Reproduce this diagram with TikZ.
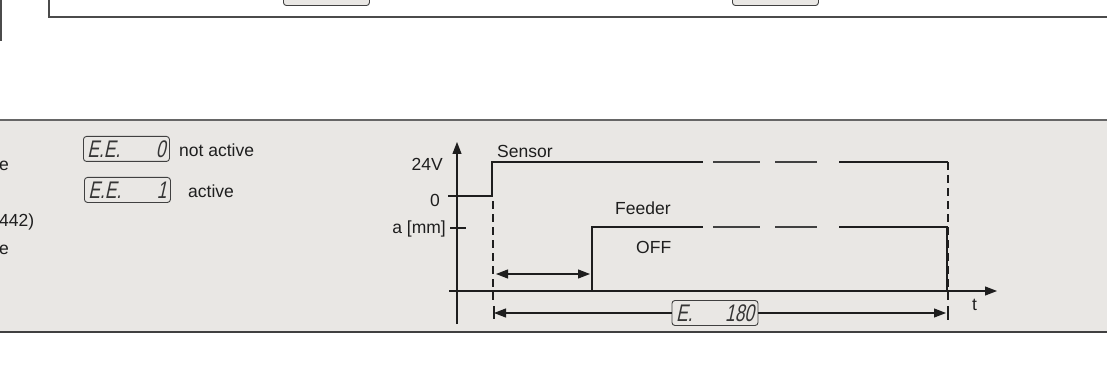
\documentclass[tikz,border=0pt]{standalone}
\usepackage{fontspec}
\setmainfont{Liberation Sans}
\newfontfamily\segfont[FakeSlant=0.22,FakeStretch=0.72]{Liberation Sans}
\usetikzlibrary{arrows.meta}
\definecolor{panel}{HTML}{E9E7E4}
\definecolor{ink}{HTML}{1E1E1E}
\tikzset{
  disp/.style={draw=ink!85, rounded corners=3pt, line width=0.9pt, minimum width=86pt, minimum height=25pt, inner sep=0pt, fill=panel, font=\segfont\fontsize{24}{24}\selectfont, text=ink!90},
  lbl/.style={inner sep=0pt, font=\fontsize{17.5}{20}\selectfont, text=ink},
  sig/.style={line width=2.2pt, draw=ink},
  sigd/.style={line width=1.8pt, draw=ink!85},
  vdash/.style={line width=2pt, draw=ink, dash pattern=on 8pt off 5pt},
  thin/.style={line width=1.1pt, draw=ink},
  arr/.style={-{Triangle[length=12pt,width=9pt]}},
}
\begin{document}
\begin{tikzpicture}[x=1pt,y=-1pt]
\useasboundingbox (0,0) rectangle (1107,390);
\clip (0,0) rectangle (1107,390);
% top part
\draw[line width=1.6pt, draw=ink!80] (49,-5) -- (49,17) -- (1112,17);
\draw[line width=1.6pt, draw=ink!80] (0.8,-5) -- (0.8,41);
\node[disp, anchor=south west] (topA) at (283,6) {};
\node[disp, anchor=south west] (topB) at (732,6) {};
% panel
\fill[panel] (0,120) rectangle (1107,332);
\draw[line width=1.4pt, draw=black!60] (0,120) -- (1107,120);
\draw[line width=2pt, draw=black!75] (0,332) -- (1107,332);
% left text fragments
\node[lbl, anchor=west] (t1) at (-1,166) {e};
\node[lbl, anchor=west] (t2) at (-1,222) {442)};
\node[lbl, anchor=west] (t3) at (-1,250) {e};
% displays
\node[disp, anchor=north west] (ee0) at (83,136) {\makebox[78pt]{E.E.\hfill 0}};
\node[lbl, anchor=west] (na) at (179,150) {not active};
\node[disp, anchor=north west] (ee1) at (84,177) {\makebox[78pt]{E.E.\hfill 1}};
\node[lbl, anchor=west] (ac) at (188,191) {active};
% axes
\coordinate (ybot) at (457,324);
\coordinate (ytop) at (457,142);
\draw[thin, arr] (ybot) -- (ytop);
\coordinate (xl) at (449,291);
\coordinate (xr) at (997,291);
\draw[thin, arr] (xl) -- (xr);
\node[lbl, anchor=east] (v24) at (443,164) {24V};
\node[lbl, anchor=east] (v0) at (440,200) {0};
\node[lbl, anchor=east] (amm) at (446,229) {a [mm]};
\draw[thin] (450,228) -- (466,228);
\node[lbl, anchor=west] (t) at (972,305) {t};
% sensor
\node[lbl, anchor=west] (sensor) at (497,151) {Sensor};
\coordinate (s0) at (448,196);
\coordinate (s1) at (492,196);
\coordinate (s2) at (492,162);
\coordinate (s3) at (703,162);
\draw[sig] (s0) -- (s1) -- (s2) -- (s3);
\draw[sigd] (713,162) -- (760,162);
\draw[sigd] (775,162) -- (817,162);
\coordinate (s4) at (839,162);
\coordinate (s5) at (948,162);
\draw[sig] (s4) -- (s5);
\coordinate (s6) at (948,300);
\draw[vdash] (s5) -- (s6);
\coordinate (d1) at (493,201);
\coordinate (d2) at (493,300);
\draw[vdash] (d1) -- (d2);
% feeder
\node[lbl, anchor=west] (feeder) at (615,208) {Feeder};
\node[lbl, anchor=west] (off) at (636,247) {OFF};
\coordinate (f0) at (462,291);
\coordinate (f1) at (592,291);
\coordinate (f2) at (592,227);
\coordinate (f3) at (703,227);
\draw[sig] (f0) -- (f1) -- (f2) -- (f3);
\draw[sigd] (713,227) -- (760,227);
\draw[sigd] (775,227) -- (817,227);
\coordinate (f4) at (839,227);
\coordinate (f5) at (947,227);
\coordinate (f6) at (947,291);
\coordinate (f7) at (970,291);
\draw[sig] (f4) -- (f5) -- (f6) -- (f7);
% delay arrow
\coordinate (a1) at (496,274);
\coordinate (a2) at (590,274);
\draw[thin, {Triangle[length=12pt,width=9pt]}-{Triangle[length=12pt,width=9pt]}] (a1) -- (a2);
% E 180
\node[disp, anchor=center] (e180) at (715,313) {\makebox[78pt]{E.\hfill 180}};
\coordinate (e1) at (494,313);
\coordinate (e2) at (946,313);
\draw[thin, arr] (e180.west) -- (e1);
\draw[thin, arr] (e180.east) -- (e2);
\draw[line width=2pt, draw=ink] (494,306) -- (494,319);
\draw[line width=2pt, draw=ink] (948,306) -- (948,320);
\end{tikzpicture}
\end{document}
